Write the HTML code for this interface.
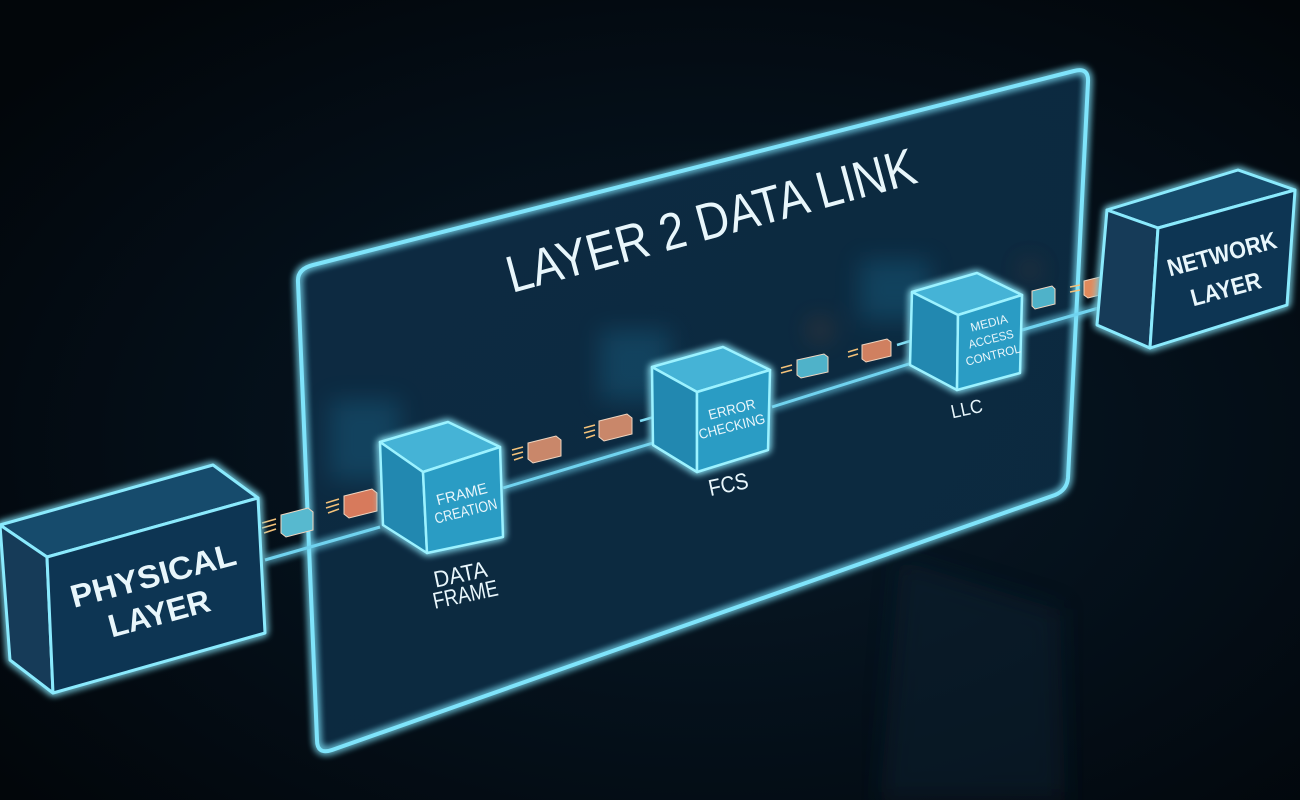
<!DOCTYPE html>
<html><head><meta charset="utf-8"><style>
html,body{margin:0;padding:0;background:#02070c;}
svg{display:block}
text{font-family:"Liberation Sans",sans-serif;fill:#e8f6fb;}
</style></head><body>
<svg width="1300" height="800" viewBox="0 0 1300 800" xmlns="http://www.w3.org/2000/svg">
<defs>
<radialGradient id="bg" cx="0.55" cy="0.55" r="0.7">
<stop offset="0" stop-color="#081a28"/><stop offset="0.6" stop-color="#040e17"/><stop offset="1" stop-color="#02060a"/>
</radialGradient>
<linearGradient id="panel" x1="0" y1="0" x2="1" y2="1">
<stop offset="0" stop-color="#0e2c44" stop-opacity="0.95"/><stop offset="1" stop-color="#0b2a40" stop-opacity="0.95"/>
</linearGradient>
<filter id="glow" x="-20%" y="-20%" width="140%" height="140%">
<feGaussianBlur stdDeviation="4" result="b"/>
<feMerge><feMergeNode in="b"/><feMergeNode in="b"/><feMergeNode in="SourceGraphic"/></feMerge>
</filter>
<filter id="blur10"><feGaussianBlur stdDeviation="12"/></filter>
</defs>
<rect width="1300" height="800" fill="url(#bg)"/>

<!-- reflection -->
<path d="M900,560 L1060,610 L1065,800 L880,800 Z" fill="#0c2233" opacity="0.5" filter="url(#blur10)"/>

<!-- panel -->
<path d="M313,265 L1074,71 Q1089,67 1088,82 L1068,478 Q1067,490 1055,495 L332,750 Q317,755 317,740 L298,282 Q297,269 313,265 Z" fill="url(#panel)"/>
<g opacity="0.35" filter="url(#blur10)">
<rect x="330" y="400" width="70" height="80" fill="#1f6f95"/>
<rect x="600" y="330" width="70" height="70" fill="#1f6f95"/>
<rect x="860" y="260" width="70" height="60" fill="#1f6f95"/>
<circle cx="820" cy="330" r="10" fill="#a0502a"/>
<circle cx="1030" cy="270" r="8" fill="#a0502a"/>
</g>
<path d="M313,265 L1074,71 Q1089,67 1088,82 L1068,478 Q1067,490 1055,495 L332,750 Q317,755 317,740 L298,282 Q297,269 313,265 Z" fill="none" stroke="#7fe4fb" stroke-width="4" filter="url(#glow)"/>

<!-- title -->
<text x="0" y="0" font-size="52" textLength="422" lengthAdjust="spacingAndGlyphs" transform="translate(512,293) rotate(-15.2)">LAYER 2 DATA LINK</text>

<!-- lines -->
<g stroke="#6fd3ef" stroke-width="3" fill="none" filter="url(#glow)">
<polyline points="265,560 380,527"/>
<polyline points="503,488 653,443"/>
<polyline points="772,407 912,363"/>
<polyline points="1022,330 1130,299"/>
</g>
<g stroke="#7fdcf3" stroke-width="2.5" fill="#7fdcf3">
<line x1="386" y1="500" x2="402" y2="494"/><polygon points="408,492 398,488 401,499"/>
<line x1="386" y1="527" x2="402" y2="521"/><polygon points="408,519 398,515 401,526"/>
<line x1="640" y1="421" x2="668" y2="413"/><polygon points="675,411 664,407 667,418"/>
<line x1="655" y1="443" x2="669" y2="439"/><polygon points="676,437 665,433 668,444"/>
<line x1="897" y1="345" x2="930" y2="335"/><polygon points="937,333 926,329 929,340"/>
<line x1="912" y1="363" x2="930" y2="359"/><polygon points="937,357 926,352 929,364"/>
<line x1="1110" y1="281" x2="1124" y2="277"/><polygon points="1131,275 1120,271 1123,282"/>
<polygon points="1136,297 1124,293 1127,304"/>
</g>

<!-- packets -->
<g stroke="#f0d6c0" stroke-width="1">
<polygon points="281,515 308,508 313,512 313,530 286,537 281,533" fill="#57b9cf"/>
<polygon points="344,496 372,489 377,493 377,511 349,518 344,514" fill="#d77a5c"/>
<polygon points="528,443 556,436 561,440 561,456 533,463 528,459" fill="#c9876a"/>
<polygon points="599,421 627,414 632,418 632,434 604,441 599,437" fill="#c9876a"/>
<polygon points="797,360 824,354 828,357 828,372 801,378 797,375" fill="#4fb2c9"/>
<polygon points="862,345 887,339 891,342 891,356 866,362 862,359" fill="#d08060"/>
<polygon points="1032,291 1052,286 1055,289 1055,304 1035,309 1032,306" fill="#4fb2c9"/>
<polygon points="1084,281 1104,276 1108,279 1108,293 1088,298 1084,295" fill="#e08a5c"/>
</g>
<g stroke="#f4c27a" stroke-width="1.5">
<line x1="262" y1="523" x2="276" y2="519"/><line x1="262" y1="528" x2="276" y2="524"/><line x1="264" y1="533" x2="276" y2="529"/>
<line x1="326" y1="503" x2="339" y2="499"/><line x1="326" y1="508" x2="339" y2="504"/><line x1="328" y1="513" x2="339" y2="509"/>
<line x1="512" y1="450" x2="523" y2="447"/><line x1="512" y1="455" x2="523" y2="452"/><line x1="514" y1="460" x2="523" y2="457"/>
<line x1="584" y1="428" x2="595" y2="425"/><line x1="584" y1="433" x2="595" y2="430"/><line x1="586" y1="438" x2="595" y2="435"/>
<line x1="781" y1="368" x2="792" y2="365"/><line x1="781" y1="373" x2="792" y2="370"/>
<line x1="848" y1="352" x2="858" y2="349"/><line x1="848" y1="357" x2="858" y2="354"/>
<line x1="1070" y1="287" x2="1080" y2="285"/><line x1="1070" y1="292" x2="1080" y2="290"/>
</g>

<!-- small cubes -->
<g stroke="#9cf2ff" stroke-width="2.5" stroke-linejoin="round" filter="url(#glow)">
<polygon points="380,442 448,422 500,447 423,472" fill="#45b3d6"/>
<polygon points="380,442 423,472 427,553 383,525" fill="#2088b0"/>
<polygon points="423,472 500,447 503,537 427,553" fill="#2a9cc4"/>

<polygon points="652,367 723,347 770,370 697,392" fill="#45b3d6"/>
<polygon points="652,367 697,392 697,472 653,445" fill="#2088b0"/>
<polygon points="697,392 770,370 768,450 697,472" fill="#2a9cc4"/>

<polygon points="912,292 977,273 1022,295 958,315" fill="#45b3d6"/>
<polygon points="912,292 958,315 957,390 910,365" fill="#2088b0"/>
<polygon points="958,315 1022,295 1020,373 957,390" fill="#2a9cc4"/>
</g>

<!-- big boxes -->
<g stroke="#8aeafd" stroke-width="3" stroke-linejoin="round" filter="url(#glow)">
<polygon points="0,525 213,465 258,498 47,557" fill="#194b6c"/>
<polygon points="0,525 47,557 53,693 10,660" fill="#123a58"/>
<polygon points="47,557 258,498 265,633 53,693" fill="#0f3452"/>

<polygon points="1107,210 1238,170 1295,190 1158,228" fill="#194b6c"/>
<polygon points="1107,210 1158,228 1150,348 1097,325" fill="#123a58"/>
<polygon points="1158,228 1295,190 1287,305 1150,348" fill="#0f3452"/>
</g>

<!-- labels -->
<g text-anchor="middle">
<text font-size="32" font-weight="bold" textLength="170" lengthAdjust="spacingAndGlyphs" transform="translate(156,586) rotate(-15)">PHYSICAL</text>
<text font-size="32" font-weight="bold" textLength="104" lengthAdjust="spacingAndGlyphs" transform="translate(162,624) rotate(-15)">LAYER</text>
<text font-size="24" font-weight="bold" textLength="112" lengthAdjust="spacingAndGlyphs" transform="translate(1224,262) rotate(-15)">NETWORK</text>
<text font-size="24" font-weight="bold" textLength="72" lengthAdjust="spacingAndGlyphs" transform="translate(1228,297) rotate(-15)">LAYER</text>
<text font-size="15" textLength="52" lengthAdjust="spacingAndGlyphs" transform="translate(463,499) rotate(-14)">FRAME</text>
<text font-size="15" textLength="64" lengthAdjust="spacingAndGlyphs" transform="translate(467,516) rotate(-14)">CREATION</text>
<text font-size="14" textLength="48" lengthAdjust="spacingAndGlyphs" transform="translate(733,414) rotate(-14)">ERROR</text>
<text font-size="14" textLength="68" lengthAdjust="spacingAndGlyphs" transform="translate(733,431) rotate(-14)">CHECKING</text>
<text font-size="12" textLength="38" lengthAdjust="spacingAndGlyphs" transform="translate(990,327) rotate(-14)">MEDIA</text>
<text font-size="12" textLength="46" lengthAdjust="spacingAndGlyphs" transform="translate(992,343) rotate(-14)">ACCESS</text>
<text font-size="12" textLength="56" lengthAdjust="spacingAndGlyphs" transform="translate(994,359) rotate(-14)">CONTROL</text>
<text font-size="23" textLength="54" lengthAdjust="spacingAndGlyphs" transform="translate(462,582) rotate(-12)">DATA</text>
<text font-size="23" textLength="66" lengthAdjust="spacingAndGlyphs" transform="translate(467,602) rotate(-12)">FRAME</text>
<text font-size="23" textLength="40" lengthAdjust="spacingAndGlyphs" transform="translate(730,492) rotate(-12)">FCS</text>
<text font-size="19" textLength="32" lengthAdjust="spacingAndGlyphs" transform="translate(968,415) rotate(-12)">LLC</text>
</g>
</svg>
</body></html>
